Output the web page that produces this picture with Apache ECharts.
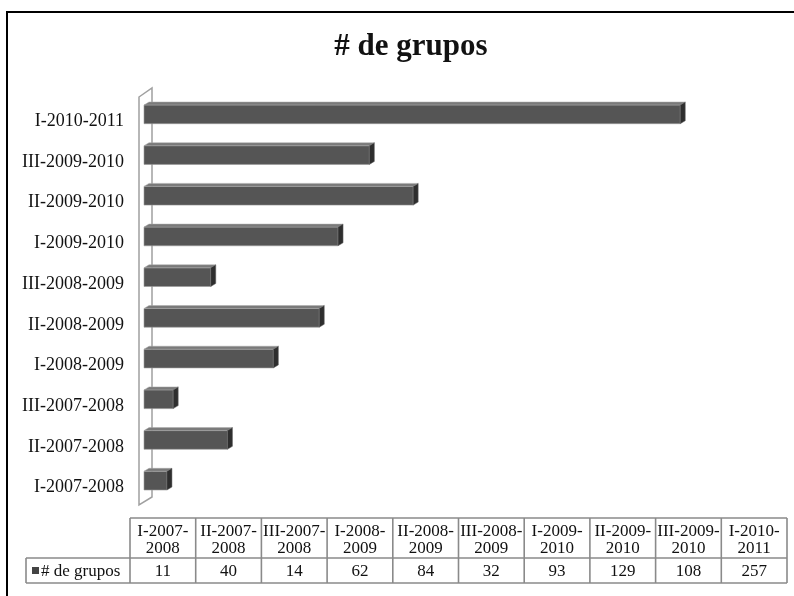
<!DOCTYPE html>
<html>
<head>
<meta charset="utf-8">
<script src="https://cdn.jsdelivr.net/npm/echarts@6/dist/echarts.min.js"></script>
<style>
  html, body { margin: 0; padding: 0; background: #fff; }
  #chart { width: 794px; height: 596px; }
</style>
</head>
<body>
<div id="chart"></div>
<script>
const chartTitle = "# de grupos";
const seriesName = "# de grupos";
const categories = [
  "I-2007-2008", "II-2007-2008", "III-2007-2008",
  "I-2008-2009", "II-2008-2009", "III-2008-2009",
  "I-2009-2010", "II-2009-2010", "III-2009-2010",
  "I-2010-2011"
];
const groupCounts = [11, 40, 14, 62, 84, 32, 93, 129, 108, 257];

const SERIF = '"Liberation Serif", "Times New Roman", serif';
const chart = echarts.init(document.getElementById("chart"), null, { renderer: "canvas" });

// 3d-ish bar: front face, lighter top strip, darker end face.
// bars sit a little above the label line, like the perspective in the original
const DX = 5, DY = -3, LIFT = 7;
function renderBar(params, api) {
  const c = api.value(1);
  const p0 = api.coord([0, c]);
  const p1 = api.coord([api.value(0), c]);
  const h = api.size([0, 1])[1] * 0.46;
  const top = p0[1] - LIFT - h / 2, bot = top + h;
  const x0 = p0[0], x1 = p1[0];
  return {
    type: "group",
    children: [
      { type: "rect", shape: { x: x0, y: top, width: x1 - x0, height: h },
        style: { fill: "#555", stroke: "#9a9a9a", lineWidth: 0.6 } },
      { type: "polygon", shape: { points: [[x0, top], [x0 + DX, top + DY], [x1 + DX, top + DY], [x1, top]] },
        style: { fill: "#7a7a7a", stroke: "#aaa", lineWidth: 0.5 } },
      { type: "polygon", shape: { points: [[x1, top], [x1 + DX, top + DY], [x1 + DX, bot + DY], [x1, bot]] },
        style: { fill: "#2e2e2e", stroke: "#666", lineWidth: 0.5 } }
    ]
  };
}

// data table under the plot, built from the arrays
const tbl = { left: 26, x0: 130, colW: 65.7, top: 518, headH: 40, rowH: 25 };
const tblRight = tbl.x0 + tbl.colW * categories.length;
const lineStyle = { stroke: "#8a8a8a", lineWidth: 1.6 };
const yMid = tbl.top + tbl.headH, yBot = yMid + tbl.rowH;
const tableEls = [
  { type: "line", shape: { x1: tbl.x0, y1: tbl.top, x2: tblRight, y2: tbl.top }, style: lineStyle },
  { type: "line", shape: { x1: tbl.left, y1: yMid, x2: tblRight, y2: yMid }, style: lineStyle },
  { type: "line", shape: { x1: tbl.left, y1: yBot, x2: tblRight, y2: yBot }, style: lineStyle },
  { type: "line", shape: { x1: tbl.left, y1: yMid, x2: tbl.left, y2: yBot }, style: lineStyle },
  { type: "rect", shape: { x: tbl.left + 6, y: yMid + 9, width: 7, height: 7 }, style: { fill: "#444" } },
  { type: "text", x: tbl.left + 15, y: yMid + tbl.rowH / 2 + 1,
    style: { text: seriesName, font: "17px " + SERIF, fill: "#111", verticalAlign: "middle" } }
];
for (let i = 0; i <= categories.length; i++) {
  const x = tbl.x0 + tbl.colW * i;
  tableEls.push({ type: "line", shape: { x1: x, y1: tbl.top, x2: x, y2: yBot }, style: lineStyle });
}
categories.forEach((cat, i) => {
  const cx = tbl.x0 + tbl.colW * (i + 0.5);
  const cut = cat.indexOf("-", cat.indexOf("-") + 1) + 1;
  tableEls.push({ type: "text", x: cx, y: tbl.top + 22,
    style: { text: cat.slice(0, cut) + "\n" + cat.slice(cut), font: "17px " + SERIF, lineHeight: 17,
             fill: "#111", align: "center", verticalAlign: "middle" } });
  tableEls.push({ type: "text", x: cx, y: yMid + tbl.rowH / 2 + 1,
    style: { text: String(groupCounts[i]), font: "17px " + SERIF, fill: "#111",
             align: "center", verticalAlign: "middle" } });
});

chart.setOption({
  backgroundColor: "#fff",
  animation: false,
  title: {
    text: chartTitle, left: 406, textAlign: "center", top: 26,
    textStyle: { fontFamily: SERIF, fontSize: 31, fontWeight: "bold", color: "#111" }
  },
  grid: { left: 144, right: 24, top: 101, height: 407 },
  xAxis: { type: "value", min: 0, max: 300, show: false },
  yAxis: {
    type: "category", data: categories,
    axisLine: { show: false }, axisTick: { show: false }, splitLine: { show: false },
    axisLabel: { margin: 20, fontFamily: SERIF, fontSize: 18, color: "#111" }
  },
  series: [{
    type: "custom", name: seriesName, z: 3,
    data: groupCounts.map((v, i) => [v, i]),
    encode: { x: 0, y: 1 },
    renderItem: renderBar
  }],
  graphic: [
    { type: "rect", z: -1, shape: { x: 7, y: 12, width: 800, height: 600 },
      style: { fill: "none", stroke: "#000", lineWidth: 2 } },
    { type: "polygon", z: 0, shape: { points: [[139, 97], [152, 88], [152, 497], [139, 505]] },
      style: { fill: "none", stroke: "#a0a0a0", lineWidth: 1.5 } },
    ...tableEls
  ]
});
</script>
</body>
</html>
